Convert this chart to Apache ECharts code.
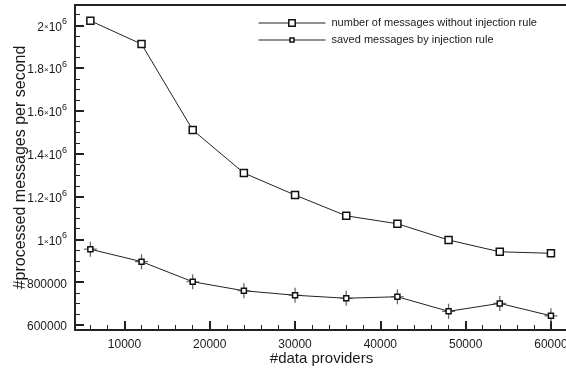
<!DOCTYPE html>
<html>
<head>
<meta charset="utf-8">
<script src="https://cdn.jsdelivr.net/npm/echarts@6/dist/echarts.min.js"></script>
<style>
html,body{margin:0;padding:0;background:#fff;}
#chart{width:566px;height:370px;}
</style>
</head>
<body>
<div id="chart"></div>
<script>
// ---- data ----
const dataProviders = [6000, 12000, 18000, 24000, 30000, 36000, 42000, 48000, 54000, 60000];
const withoutInjection = [2021000, 1912000, 1511000, 1310000, 1207000, 1110000, 1073000, 997000, 942000, 935000];
const savedByInjection = [954000, 896000, 802000, 760000, 739000, 725000, 732000, 664000, 701000, 643000];
const seriesNames = ['number of messages without injection rule', 'saved messages by injection rule'];
const xTickValues = [10000, 20000, 30000, 40000, 50000, 60000];
const xTickLabels = ['10000', '20000', '30000', '40000', '50000', '60000'];
const yTickValues = [600000, 800000, 1000000, 1200000, 1400000, 1600000, 1800000, 2000000];
const yTickLabels = ['{n|600000}', '{n|800000}', '{n|1}{x|×}{n|10}{s|6}', '{n|1.2}{x|×}{n|10}{s|6}',
  '{n|1.4}{x|×}{n|10}{s|6}', '{n|1.6}{x|×}{n|10}{s|6}', '{n|1.8}{x|×}{n|10}{s|6}', '{n|2}{x|×}{n|10}{s|6}'];
const xName = '#data providers';
const yName = '#processed messages per second';

// axis ranges / minor ticks
const X_MIN = 4200, X_MAX = 62000;
const Y_MIN = 576700, Y_MAX = 2094700;
const xMinor = [];
for (let v = 6000; v <= X_MAX; v += 2000) if (v % 10000 !== 0) xMinor.push(v);
const yMinor = [];
for (let v = 600000; v <= Y_MAX; v += 50000) if (v % 200000 !== 0) yMinor.push(v);

const FONT = 'Liberation Sans, Arial, Helvetica, sans-serif';
const TXT = '#1a1a1a';
const AX = '#222';

const chart = echarts.init(document.getElementById('chart'));
const pts1 = dataProviders.map((x, i) => [x, withoutInjection[i]]);
const pts2 = dataProviders.map((x, i) => [x, savedByInjection[i]]);

function legendCfg(name, top, h) {
  return {
    orient: 'vertical', left: 258, top: top, padding: 0, itemWidth: 67, itemHeight: h,
    textStyle: {fontSize: 11, color: TXT, fontFamily: FONT, padding: [0, 0, 0, 1]},
    lineStyle: {width: 1, color: AX},
    itemStyle: {borderWidth: 1.5},
    data: [name]
  };
}
const gridBox = {left: 75, top: 5, width: 493, height: 325, containLabel: false, outerBoundsMode: 'none'};
const hiddenAxis = (min, max, gi) => ({type: 'value', gridIndex: gi, min: min, max: max, show: false,
  axisLine: {show: false}, axisTick: {show: false}, axisLabel: {show: false}, splitLine: {show: false}});

const option = {
  animation: false,
  backgroundColor: '#fff',
  grid: [Object.assign({}, gridBox), Object.assign({}, gridBox)],
  legend: [legendCfg(seriesNames[0], 17.5, 8), legendCfg(seriesNames[1], 34.5, 5)],
  xAxis: [
    hiddenAxis(X_MIN, X_MAX, 0),
    {
      type: 'value', gridIndex: 1, min: X_MIN, max: X_MAX, position: 'bottom',
      name: xName, nameLocation: 'middle', nameGap: 21.5, nameMoveOverlap: false,
      nameTextStyle: {fontSize: 15, color: TXT, fontFamily: FONT},
      axisLine: {show: true, lineStyle: {color: AX, width: 2}},
      axisTick: {show: true, inside: true, length: 9, customValues: xTickValues, lineStyle: {color: AX, width: 2}},
      axisLabel: {show: true, customValues: xTickValues, fontSize: 12, color: TXT, fontFamily: FONT, margin: 9,
        formatter: v => xTickLabels[xTickValues.indexOf(v)]},
      splitLine: {show: false}
    }, {
      type: 'value', gridIndex: 1, min: X_MIN, max: X_MAX, position: 'bottom', offset: 0,
      axisLine: {show: false},
      axisTick: {show: true, inside: true, length: 5, customValues: xMinor, lineStyle: {color: AX, width: 1}},
      axisLabel: {show: false},
      splitLine: {show: false}
    }, {
      type: 'value', gridIndex: 1, min: X_MIN, max: X_MAX, position: 'top', offset: 0,
      axisLine: {show: true, lineStyle: {color: AX, width: 2}},
      axisTick: {show: false}, axisLabel: {show: false}, splitLine: {show: false}
    }],
  yAxis: [
    hiddenAxis(Y_MIN, Y_MAX, 0),
    {
      type: 'value', gridIndex: 1, min: Y_MIN, max: Y_MAX, position: 'left',
      name: yName, nameLocation: 'middle', nameGap: 46, nameRotate: 90, nameMoveOverlap: false,
      nameTextStyle: {fontSize: 16, color: TXT, fontFamily: FONT},
      axisLine: {show: true, lineStyle: {color: AX, width: 2}},
      axisTick: {show: true, inside: true, length: 9, customValues: yTickValues, lineStyle: {color: AX, width: 2}},
      axisLabel: {show: true, customValues: yTickValues, margin: 8, color: TXT,
        formatter: v => yTickLabels[yTickValues.indexOf(v)],
        rich: {
          n: {fontSize: 12, color: TXT, fontFamily: FONT, lineHeight: 16, verticalAlign: 'bottom'},
          x: {fontSize: 8, color: TXT, fontFamily: FONT, lineHeight: 16, verticalAlign: 'bottom', padding: [0, 0, 2, 0]},
          s: {fontSize: 9, color: TXT, fontFamily: FONT, lineHeight: 9, verticalAlign: 'top'}
        }},
      splitLine: {show: false}
    }, {
      type: 'value', gridIndex: 1, min: Y_MIN, max: Y_MAX, position: 'left', offset: 0,
      axisLine: {show: false},
      axisTick: {show: true, inside: true, length: 5, customValues: yMinor, lineStyle: {color: AX, width: 1}},
      axisLabel: {show: false},
      splitLine: {show: false}
    }],
  series: [{
    name: seriesNames[0], type: 'line', data: pts1, xAxisIndex: 0, yAxisIndex: 0,
    symbol: 'rect', symbolSize: 7,
    lineStyle: {color: AX, width: 1},
    itemStyle: {color: '#fff', borderColor: '#111', borderWidth: 1.5}
  }, {
    name: 'errorbars', type: 'scatter', data: pts2, xAxisIndex: 0, yAxisIndex: 0,
    symbol: 'path://M4.5,0h1v10h-1zM0,4.6h10v0.8h-10z', symbolSize: [13, 15], symbolKeepAspect: false,
    itemStyle: {color: '#444'}, silent: true
  }, {
    name: seriesNames[1], type: 'line', data: pts2, xAxisIndex: 0, yAxisIndex: 0,
    symbol: 'rect', symbolSize: 5,
    lineStyle: {color: AX, width: 1},
    itemStyle: {color: '#fff', borderColor: '#111', borderWidth: 1.5}
  }]
};
chart.setOption(option);
</script>
</body>
</html>
